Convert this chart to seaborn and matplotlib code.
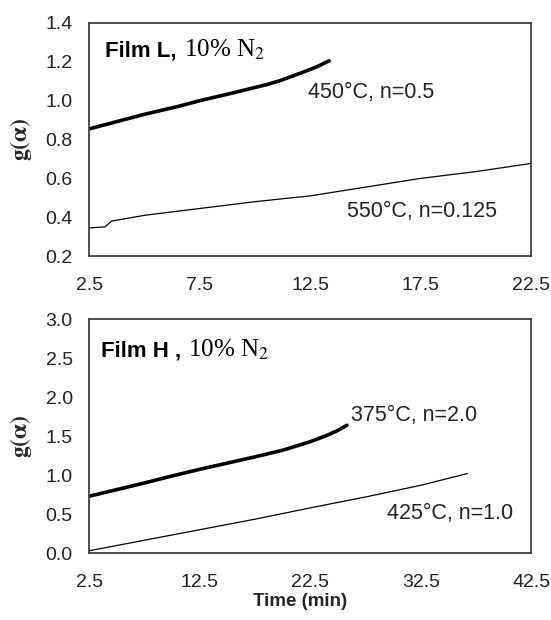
import numpy as np
import pandas as pd
import matplotlib
matplotlib.use("Agg")
import matplotlib.pyplot as plt
import seaborn as sns

# Film L, 10% N2
l450_time = [2.5, 3.5, 5.0, 6.5, 7.5, 9.0, 10.5, 11.1, 12.2, 12.8, 13.35]
l450_g = [0.855, 0.885, 0.93, 0.97, 1.0, 1.04, 1.082, 1.102, 1.148, 1.175, 1.205]
l550_time = [2.5, 3.2, 3.5, 5.0, 7.5, 10.0, 12.5, 15.0, 17.5, 20.0, 22.5]
l550_g = [0.345, 0.35, 0.38, 0.41, 0.445, 0.48, 0.51, 0.555, 0.60, 0.635, 0.677]

# Film H, 10% N2
h375_time = [2.5, 5.0, 7.5, 10.0, 12.5, 15.0, 17.5, 20.0, 22.5, 24.0, 25.0, 25.8]
h375_g = [0.73, 0.815, 0.9, 0.99, 1.075, 1.155, 1.235, 1.32, 1.43, 1.51, 1.575, 1.64]
h425_time = [2.5, 7.5, 12.5, 17.5, 22.5, 27.5, 32.5, 36.7]
h425_g = [0.03, 0.165, 0.30, 0.435, 0.58, 0.72, 0.87, 1.02]

top_xticks = [2.5, 7.5, 12.5, 17.5, 22.5]
top_yticks = [0.2, 0.4, 0.6, 0.8, 1.0, 1.2, 1.4]
bot_xticks = [2.5, 12.5, 22.5, 32.5, 42.5]
bot_yticks = [0.0, 0.5, 1.0, 1.5, 2.0, 2.5, 3.0]

sns.set_theme(style="white")
plt.rcParams["font.family"] = ["Liberation Sans", "DejaVu Sans"]
plt.rcParams["mathtext.fontset"] = "stix"

edge = "#404040"
fig = plt.figure(figsize=(5.51, 6.2), dpi=100)
ax1 = fig.add_axes([0.1624, 0.587, 0.802, 0.376])
ax2 = fig.add_axes([0.1624, 0.108, 0.802, 0.377])


def style_axis(ax, xt, yt, xlim, ylim):
    ax.set_xlim(*xlim)
    ax.set_ylim(*ylim)
    ax.set_xticks(xt)
    ax.set_yticks(yt)
    ax.set_xticklabels([f"{v:.1f}" for v in xt])
    ax.set_yticklabels([f"{v:.1f}" for v in yt])
    ax.tick_params(axis="both", direction="out", length=7, width=1.2,
                   color=edge, labelsize=14, labelcolor="#222222")
    ax.tick_params(axis="x", pad=8)
    ax.tick_params(axis="y", pad=5)
    for s in ax.spines.values():
        s.set_color(edge)
        s.set_linewidth(1.3)
    ax.set_xlabel("")
    ax.set_ylabel(r"$\mathbf{g(\alpha)}$", fontsize=17)
    ax.yaxis.label.set_verticalalignment("center")
    ax.yaxis.set_label_coords(-0.155, 0.5)


def film_title(ax, head, x, y):
    t = ax.text(x, y, head, transform=ax.transAxes, fontsize=16,
                fontweight="bold", va="baseline", ha="left", color="black")
    ax.annotate(r"10% N$_2$", xy=(1, 0), xycoords=t, xytext=(5, 0),
                textcoords="offset points", va="bottom", ha="left",
                fontsize=18, family=["Liberation Serif", "DejaVu Serif"],
                color="black")


sns.lineplot(x=l450_time, y=l450_g, ax=ax1, color="black", linewidth=2.6)
sns.lineplot(x=l550_time, y=l550_g, ax=ax1, color="black", linewidth=0.9)
style_axis(ax1, top_xticks, top_yticks, (2.5, 22.5), (0.2, 1.4))
film_title(ax1, "Film L,", 0.036, 0.855)
ax1.text(12.4, 1.04, "450°C, n=0.5", fontsize=15.5, va="center", ha="left", color="#222222")
ax1.text(14.15, 0.43, "550°C, n=0.125", fontsize=15.5, va="center", ha="left", color="#222222")

sns.lineplot(x=h375_time, y=h375_g, ax=ax2, color="black", linewidth=2.6)
sns.lineplot(x=h425_time, y=h425_g, ax=ax2, color="black", linewidth=0.9)
style_axis(ax2, bot_xticks, bot_yticks, (2.5, 42.5), (0.0, 3.0))
film_title(ax2, "Film H ,", 0.027, 0.84)
ax2.text(26.2, 1.77, "375°C, n=2.0", fontsize=15.5, va="center", ha="left", color="#222222")
ax2.text(29.4, 0.51, "425°C, n=1.0", fontsize=15.5, va="center", ha="left", color="#222222")
ax2.set_xlabel("Time (min)", fontsize=13.5, fontweight="bold")
ax2.xaxis.set_label_coords(0.476, -0.17)

fig.savefig("out.png", dpi=100, facecolor="white")
